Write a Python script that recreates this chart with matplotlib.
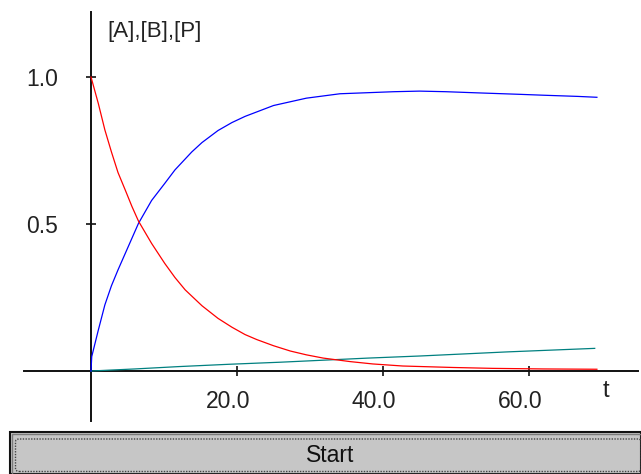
import matplotlib
matplotlib.use("Agg")
import matplotlib.pyplot as plt
from matplotlib.patches import Rectangle, FancyBboxPatch
from matplotlib.transforms import ScaledTranslation

plt.rcParams['font.family'] = ['Liberation Sans', 'DejaVu Sans']

# Concentration of A (reactant)
t_a = [0, 1.0, 1.9, 2.8, 3.7, 4.7, 5.6, 6.5, 8.3, 10.1, 11.5, 12.9, 15.2,
       17.4, 19.3, 21.1, 22.7, 25.0, 27.3, 29.5, 31.8, 35.5, 38.6, 42.7,
       49.6, 55.0, 62.0, 69.3]
conc_a = [1.0, 0.91, 0.82, 0.745, 0.675, 0.615, 0.56, 0.51, 0.434, 0.366,
          0.318, 0.276, 0.222, 0.179, 0.149, 0.124, 0.107, 0.086, 0.068,
          0.055, 0.044, 0.032, 0.024, 0.017, 0.012, 0.009, 0.007, 0.006]

# Concentration of B (intermediate)
t_b = [0, 0.1, 1.0, 1.9, 2.8, 3.7, 5.1, 6.5, 8.3, 10.1, 11.5, 13.8, 15.2,
       17.4, 19.3, 21.1, 25.0, 29.5, 34.1, 41.5, 45.0, 48.6, 53.0, 58.8,
       62.0, 66.7, 69.3]
conc_b = [0, 0.049, 0.139, 0.225, 0.29, 0.344, 0.423, 0.502, 0.58, 0.638,
          0.684, 0.745, 0.777, 0.818, 0.845, 0.866, 0.903, 0.928, 0.943,
          0.95, 0.952, 0.95, 0.946, 0.941, 0.938, 0.934, 0.931]

# Concentration of P (product)
t_p = [0, 6, 12, 19, 26, 32, 38, 45, 51, 57, 63, 69]
conc_p = [0, 0.007, 0.015, 0.023, 0.03, 0.037, 0.044, 0.051, 0.058, 0.065,
          0.071, 0.077]

x_ticks = [20.0, 40.0, 60.0]
y_ticks = [0.5, 1.0]
x_tick_labels = ["20.0", "40.0", "60.0"]
y_tick_labels = ["0.5", "1.0"]

W, H = 641, 474
fig = plt.figure(figsize=(W / 100, H / 100), dpi=100)
ax = fig.add_axes([0, 0, 1, 1])

ax.set_xlim(-12.466, 75.34)
ax.set_ylim(-0.3503, 1.2619)

lw = 0.9
ax.plot(t_p, conc_p, color="#008080", lw=lw, zorder=3)
ax.plot(t_b, conc_b, color="#0000ff", lw=lw, zorder=3)
ax.plot(t_a, conc_a, color="#ff0000", lw=lw, zorder=4)

# axes crossing at the origin
for side in ("top", "right"):
    ax.spines[side].set_visible(False)
ax.spines["left"].set_position(("data", 0))
ax.spines["bottom"].set_position(("data", 0))
ax.spines["left"].set_bounds(-0.170, 1.221)
ax.spines["bottom"].set_bounds(-9.18, 74.93)
for side in ("left", "bottom"):
    ax.spines[side].set_linewidth(1.4)
    ax.spines[side].set_color("#111111")
    ax.spines[side].set_zorder(2)

ax.set_xticks(x_ticks, x_tick_labels)
ax.set_yticks(y_ticks, y_tick_labels)
ax.tick_params(axis="both", direction="inout", length=7.5, width=1.2,
               color="#111111", labelsize=16.5, labelcolor="#222222")
ax.tick_params(axis="x", pad=10)
ax.tick_params(axis="y", pad=20)
shift = ScaledTranslation(-9 / 100, 0, fig.dpi_scale_trans)
for lab in ax.get_xticklabels():
    lab.set_transform(lab.get_transform() + shift)

fig.text(107 / W, 1 - 31 / H, "[A],[B],[P]", fontsize=16, color="#222222",
         ha="left", va="center")
fig.text(606 / W, 1 - 391 / H, "t", fontsize=17, color="#222222",
         ha="center", va="center")

# Start button
btn = Rectangle((10 / W, 0), (W - 10) / W, 42 / H, transform=fig.transFigure,
                facecolor="#c6c6c6", edgecolor="#111111", lw=1.5, zorder=10)
fig.add_artist(btn)
inner = Rectangle((12 / W, 0), (W - 12) / W, 40 / H, transform=fig.transFigure,
                  facecolor="none", edgecolor="#7a7a7a", lw=1.0, zorder=11)
fig.add_artist(inner)
focus = FancyBboxPatch((15.5 / W, 2.5 / H), (W - 15) / W, 32.5 / H,
                       boxstyle="round,pad=0,rounding_size=0.006",
                       transform=fig.transFigure, facecolor="none",
                       edgecolor="#444444", lw=1.0, linestyle=(0, (1, 1)),
                       zorder=12)
fig.add_artist(focus)
fig.text(330 / W, 1 - 456 / H, "Start", fontsize=16.5, color="#111111",
         ha="center", va="center", zorder=13)

fig.savefig("out.png", dpi=100)
